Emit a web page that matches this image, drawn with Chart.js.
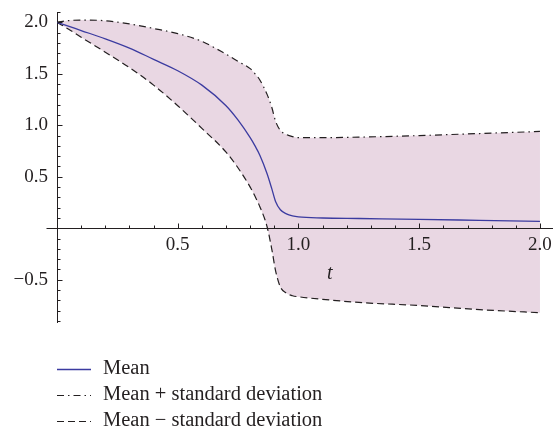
<!DOCTYPE html>
<html>
<head>
<meta charset="utf-8">
<script src="https://cdn.jsdelivr.net/npm/chart.js@4.4.1/dist/chart.umd.min.js"></script>
<style>
  html, body { margin: 0; padding: 0; background: #fff; }
  #wrap { width: 553px; height: 427px; }
</style>
</head>
<body>
<div id="wrap"><canvas id="meanChart"></canvas></div>
<script>
// Mean with a +/- standard deviation band over t

const tValues     = [0, 0.05, 0.1, 0.2, 0.3, 0.4, 0.5, 0.6, 0.7, 0.75, 0.8, 0.82, 0.84, 0.87, 0.89, 0.905, 0.925, 0.95, 0.975, 1.0, 1.1, 1.25, 1.5, 1.75, 2.0];
const meanValues  = [2.0, 1.96, 1.92, 1.84, 1.75, 1.64, 1.53, 1.39, 1.19, 1.05, 0.88, 0.80, 0.71, 0.53, 0.38, 0.26, 0.18, 0.14, 0.12, 0.11, 0.10, 0.095, 0.087, 0.077, 0.067];
const upperValues = [2.0, 2.017, 2.022, 2.015, 1.985, 1.94, 1.89, 1.815, 1.69, 1.62, 1.55, 1.50, 1.44, 1.30, 1.17, 1.04, 0.95, 0.91, 0.89, 0.88, 0.88, 0.885, 0.90, 0.92, 0.94];
const lowerValues = [2.0, 1.93, 1.855, 1.71, 1.56, 1.39, 1.19, 0.97, 0.74, 0.585, 0.40, 0.31, 0.21, 0.015, -0.21, -0.41, -0.57, -0.63, -0.655, -0.665, -0.69, -0.72, -0.75, -0.79, -0.82];

const xTickLabels = [0.5, 1.0, 1.5, 2.0];
const yTickLabels = [-0.5, 0.5, 1.0, 1.5, 2.0];
const seriesLabels = ['Mean', 'Mean + standard deviation', 'Mean \u2212 standard deviation'];

const serif = '"Liberation Serif", "Times New Roman", serif';
const ink = '#231f20';
const bandColor = '#e9d7e3';
const meanColor = '#3b3ba0';

function toPoints(values) {
    return tValues.map((t, i) => ({ x: t, y: values[i] }));
}

function fmt(v) {
    return Number(v).toFixed(1).replace('-', '\u2212');
}

// minor/major tick marks pointing into the plot, axis stub, the "t" label and the legend
const axisDecor = {
    id: 'axisDecor',
    afterDraw(chart) {
        const ctx = chart.ctx;
        const xs = chart.scales.x;
        const ys = chart.scales.y;
        const x0 = Math.round(xs.getPixelForValue(0)) + 0.5;
        const y0 = Math.round(ys.getPixelForValue(0)) + 0.5;

        ctx.save();
        ctx.strokeStyle = ink;
        ctx.lineWidth = 1;
        ctx.beginPath();
        // x axis continues a little left of the y axis
        ctx.moveTo(x0 - 11, y0);
        ctx.lineTo(x0, y0);
        for (let i = 1; i <= 20; i++) {
            const px = Math.round(xs.getPixelForValue(i / 10)) + 0.5;
            const len = i % 5 === 0 ? 5 : 3;
            ctx.moveTo(px, y0);
            ctx.lineTo(px, y0 - len);
        }
        for (let i = -9; i <= 21; i++) {
            if (i === 0) continue;
            const py = Math.round(ys.getPixelForValue(i / 10)) + 0.5;
            const len = i % 5 === 0 ? 5 : 3;
            ctx.moveTo(x0, py);
            ctx.lineTo(x0 + len, py);
        }
        ctx.stroke();

        ctx.fillStyle = ink;
        ctx.font = 'italic 20px ' + serif;
        ctx.textAlign = 'center';
        ctx.textBaseline = 'middle';
        ctx.fillText('t', xs.getPixelForValue(1.13), ys.getPixelForValue(-0.44));

        // legend under the plot
        const legendTop = chart.chartArea.bottom + 47;
        const startX = xs.getPixelForValue(0);
        ctx.font = '20.5px ' + serif;
        ctx.textAlign = 'left';
        ctx.textBaseline = 'alphabetic';
        chart.data.datasets.forEach((ds, i) => {
            const y = Math.round(legendTop + i * 26) + 0.5;
            ctx.strokeStyle = ds.borderColor;
            ctx.lineWidth = ds.borderWidth;
            ctx.setLineDash(ds.borderDash || []);
            ctx.beginPath();
            ctx.moveTo(startX, y);
            ctx.lineTo(startX + 34, y);
            ctx.stroke();
            ctx.setLineDash([]);
            ctx.fillText(ds.label, startX + 46, y + 4.5);
        });
        ctx.restore();
    }
};

const ctx = document.getElementById('meanChart').getContext('2d');

new Chart(ctx, {
    type: 'line',
    data: {
        datasets: [
            {
                label: seriesLabels[0],
                data: toPoints(meanValues),
                borderColor: meanColor,
                borderWidth: 1.3,
                pointRadius: 0,
                fill: false,
                cubicInterpolationMode: 'monotone'
            },
            {
                label: seriesLabels[1],
                data: toPoints(upperValues),
                borderColor: ink,
                borderWidth: 1.2,
                borderDash: [7, 4, 1.5, 4],
                backgroundColor: bandColor,
                pointRadius: 0,
                fill: '+1',
                cubicInterpolationMode: 'monotone'
            },
            {
                label: seriesLabels[2],
                data: toPoints(lowerValues),
                borderColor: ink,
                borderWidth: 1.2,
                borderDash: [7, 4],
                pointRadius: 0,
                fill: false,
                cubicInterpolationMode: 'monotone'
            }
        ]
    },
    options: {
        responsive: true,
        maintainAspectRatio: false,
        animation: false,
        layout: {
            padding: { left: 0, right: 0, top: 12, bottom: 105 }
        },
        scales: {
            x: {
                type: 'linear',
                min: 0,
                max: 2.054,
                position: { y: 0 },
                afterFit: (scale) => {
                    scale.paddingLeft = 0;
                    scale.paddingRight = 0;
                },
                afterBuildTicks: (scale) => {
                    scale.ticks = xTickLabels.map(v => ({ value: v }));
                },
                ticks: {
                    callback: (v) => fmt(v),
                    color: ink,
                    font: { family: serif, size: 19 },
                    padding: 5,
                    maxRotation: 0,
                    autoSkip: false,
                    z: 1
                },
                grid: { drawOnChartArea: false, drawTicks: false },
                border: { color: ink, width: 1, z: 1 }
            },
            y: {
                type: 'linear',
                min: -0.91,
                max: 2.1,
                position: 'left',
                afterFit: (scale) => {
                    scale.width = 57;
                    scale.paddingTop = 0;
                    scale.paddingBottom = 0;
                },
                afterBuildTicks: (scale) => {
                    scale.ticks = yTickLabels.map(v => ({ value: v }));
                },
                ticks: {
                    callback: (v) => fmt(v),
                    color: ink,
                    font: { family: serif, size: 19 },
                    padding: 9,
                    autoSkip: false
                },
                grid: { drawOnChartArea: false, drawTicks: false },
                border: { color: ink, width: 1 }
            }
        },
        plugins: {
            legend: { display: false },
            tooltip: { enabled: false },
            filler: { drawTime: 'beforeDatasetsDraw' }
        }
    },
    plugins: [axisDecor]
});
</script>
</body>
</html>
